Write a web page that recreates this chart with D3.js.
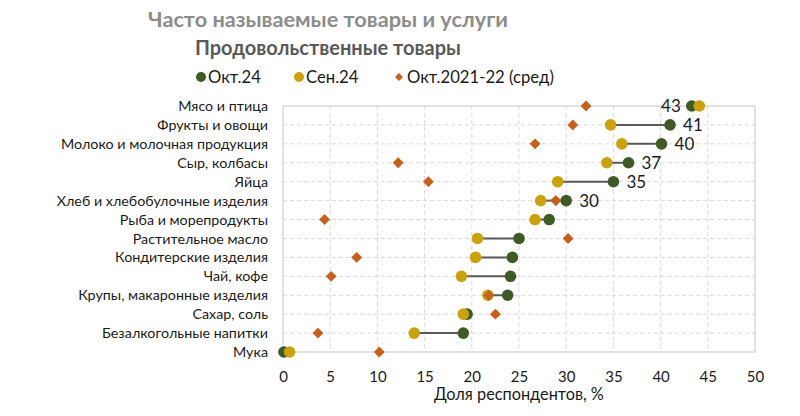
<!DOCTYPE html>
<html><head><meta charset="utf-8">
<script src="https://cdn.jsdelivr.net/npm/d3@7"></script>
<style>body{margin:0;background:#fff}svg{display:block}text{font-family:Lato,"Open Sans",sans-serif}</style>
</head><body><svg id="c" width="800" height="416"></svg>
<script>
const categories = ["Мясо и птица","Фрукты и овощи","Молоко и молочная продукция","Сыр, колбасы","Яйца","Хлеб и хлебобулочные изделия","Рыба и морепродукты","Растительное масло","Кондитерские изделия","Чай, кофе","Крупы, макаронные изделия","Сахар, соль","Безалкогольные напитки","Мука"];
const oct24 = [43.3,41.0,40.1,36.6,35.0,30.0,28.2,25.0,24.3,24.1,23.8,19.5,19.1,0.1];
const sep24 = [44.1,34.7,35.9,34.3,29.1,27.3,26.7,20.6,20.4,18.9,21.7,19.1,13.9,0.7];
const avg2122 = [32.1,30.7,26.7,12.2,15.4,28.9,4.4,30.2,7.8,5.1,21.8,22.5,3.7,10.2];
const labels = ["43","41","40","37","35","30","","","","","","","",""];
const xTicks = [0,5,10,15,20,25,30,35,40,45,50];

const svg = d3.select("#c");
const x = d3.scaleLinear().domain([0,50]).range([283,755]);
const y = d3.scalePoint().domain(categories).range([106,352]);
const cG="#3e5a26", cY="#c9a20e", cO="#c85f1c";

// grid
svg.append("g").selectAll("line.v").data(xTicks.slice(1,-1)).join("line")
  .attr("x1",d=>x(d)).attr("x2",d=>x(d)).attr("y1",106).attr("y2",352)
  .attr("stroke","#d9d9d9").attr("stroke-dasharray","4,3");
svg.append("g").selectAll("line.h").data(categories.slice(1,-1)).join("line")
  .attr("x1",283).attr("x2",755).attr("y1",d=>y(d)).attr("y2",d=>y(d))
  .attr("stroke","#d9d9d9").attr("stroke-dasharray","4,3");
svg.append("rect").attr("x",283).attr("y",106).attr("width",472).attr("height",246)
  .attr("fill","none").attr("stroke","#d9d9d9").attr("stroke-width",1.5);

// x axis labels
const xa = svg.append("g").attr("transform","translate(0,352)")
  .call(d3.axisBottom(x).tickValues(xTicks).tickSize(0).tickPadding(19));
xa.select(".domain").remove();
xa.selectAll("text").attr("font-size",15).attr("fill","#1a1a1a").attr("font-family","Lato,sans-serif");

// y axis labels
const ya = svg.append("g").attr("transform","translate(283,0)")
  .call(d3.axisLeft(y).tickSize(0).tickPadding(15));
ya.select(".domain").remove();
ya.selectAll("text").attr("font-size",14.3).attr("fill","#1a1a1a").attr("font-family","Lato,sans-serif");

// connecting lines
svg.append("g").selectAll("line").data(categories).join("line")
  .attr("x1",(d,i)=>x(sep24[i])).attr("x2",(d,i)=>x(oct24[i]))
  .attr("y1",d=>y(d)).attr("y2",d=>y(d)).attr("stroke","#595959").attr("stroke-width",2);

// diamonds
const dia = d3.symbol().type(d3.symbolDiamond2).size(75);
svg.append("g").selectAll("path").data(categories).join("path")
  .attr("d",dia).attr("transform",(d,i)=>`translate(${x(avg2122[i])},${y(d)})`)
  .attr("fill",cO);
// oct dots
svg.append("g").selectAll("circle").data(categories).join("circle")
  .attr("cx",(d,i)=>x(oct24[i])).attr("cy",d=>y(d)).attr("r",5.8).attr("fill",cG);
// sep dots
svg.append("g").selectAll("circle").data(categories).join("circle")
  .attr("cx",(d,i)=>x(sep24[i])).attr("cy",d=>y(d)).attr("r",5.8).attr("fill",cY);
// diamond on top where it overlaps (Крупы, Хлеб)
svg.append("g").selectAll("path").data(categories.filter((d,i)=>i===10||i===5)).join("path")
  .attr("d",dia).attr("transform",d=>`translate(${x(avg2122[categories.indexOf(d)])},${y(d)})`)
  .attr("fill",cO);

// data labels
svg.append("g").selectAll("text").data(categories).join("text")
  .text((d,i)=>labels[i])
  .attr("x",(d,i)=> i===0 ? x(oct24[i])-11 : x(oct24[i])+13)
  .attr("y",d=>y(d)).attr("dy","0.35em")
  .attr("text-anchor",(d,i)=> i===0 ? "end":"start")
  .attr("font-size",17).attr("fill","#1a1a1a");

// titles
svg.append("text").attr("x",148).attr("y",27).text("Часто называемые товары и услуги")
  .attr("font-size",21.7).attr("font-weight","bold").attr("fill","#8c8c8c");
svg.append("text").attr("x",195).attr("y",55).text("Продовольственные товары")
  .attr("font-size",20).attr("font-weight","bold").attr("fill","#595959");

// legend
const lg = svg.append("g").attr("transform","translate(0,77)");
lg.append("circle").attr("cx",201).attr("cy",0).attr("r",5).attr("fill",cG);
lg.append("text").attr("x",208).attr("y",0).attr("dy","0.35em").text("Окт.24").attr("font-size",16.7).attr("fill","#1a1a1a");
lg.append("circle").attr("cx",299).attr("cy",0).attr("r",5).attr("fill",cY);
lg.append("text").attr("x",306).attr("y",0).attr("dy","0.35em").text("Сен.24").attr("font-size",16.7).attr("fill","#1a1a1a");
lg.append("path").attr("d",d3.symbol().type(d3.symbolDiamond2).size(40)).attr("transform","translate(399,0)").attr("fill",cO);
lg.append("text").attr("x",407).attr("y",0).attr("dy","0.35em").text("Окт.2021-22 (сред)").attr("font-size",16.7).attr("fill","#1a1a1a");

// axis title
svg.append("text").attr("x",519).attr("y",400).attr("text-anchor","middle").text("Доля респондентов, %")
  .attr("font-size",16.3).attr("fill","#1a1a1a");
</script></body></html>
